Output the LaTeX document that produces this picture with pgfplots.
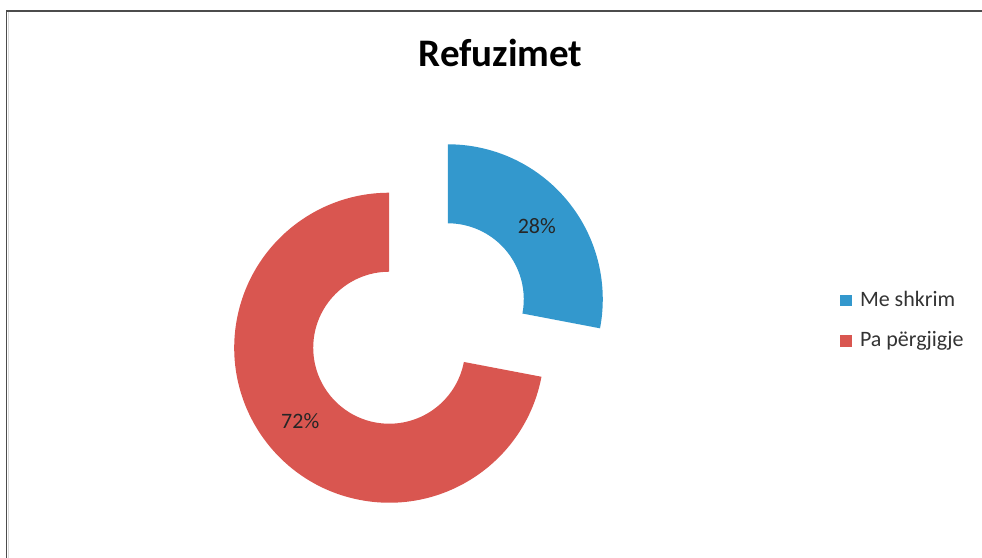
\documentclass[border=0pt]{standalone}
\usepackage{pgfplots}
\usepackage{pgfplotstable}
\pgfplotsset{compat=1.18}
\usepackage{fontspec}
\setmainfont{Carlito}

\definecolor{cblue}{RGB}{51,152,205}
\definecolor{cred}{RGB}{217,86,80}

% share of each ring segment
\pgfplotstableread{
label value
MeShkrim 28
PaPergjigje 72
}\ringdata

\begin{document}
\begin{tikzpicture}
\pgfplotstablegetelem{0}{value}\of\ringdata \let\va\pgfplotsretval
\pgfplotstablegetelem{1}{value}\of\ringdata \let\vb\pgfplotsretval
% angles (counter-clockwise from +x), ring starts at 12 o'clock and runs clockwise
\pgfmathsetmacro\aA{90}
\pgfmathsetmacro\aB{90-\va/(\va+\vb)*360}
\pgfmathsetmacro\aC{\aB-\vb/(\va+\vb)*360}
\pgfmathsetmacro\mA{(\aA+\aB)/2}
\pgfmathsetmacro\mB{(\aB+\aC)/2}
% centre of the ring in pixel units, explosion 38 px
\pgfmathsetmacro\cxA{418.5+38*cos(\mA)}
\pgfmathsetmacro\cyA{234.5+38*sin(\mA)}
\pgfmathsetmacro\cxB{418.5+38*cos(\mB)}
\pgfmathsetmacro\cyB{234.5+38*sin(\mB)}
% label positions at mid-ring
\pgfmathsetmacro\lxA{\cxA+115.5*cos(\mA)}
\pgfmathsetmacro\lyA{\cyA+115.5*sin(\mA)}
\pgfmathsetmacro\lxB{\cxB+115.5*cos(\mB)}
\pgfmathsetmacro\lyB{\cyB+115.5*sin(\mB)}

\useasboundingbox (0,0) rectangle (491pt,279pt);

\begin{axis}[
  at={(0,0)}, anchor=south west,
  width=491pt, height=279pt,
  scale only axis,
  xmin=0, xmax=982, ymin=0, ymax=558,
  hide axis,
  clip=false,
  legend style={
    draw=none, fill=none,
    at={(axis cs:840,237.5)}, anchor=west,
    font=\fontsize{11}{13}\selectfont,
    text=black!80,
    row sep=8pt,
    inner sep=0pt,
    nodes={inner ysep=1.5pt, inner xsep=1.5pt},
    /tikz/every odd column/.append style={column sep=2.5pt},
  },
  legend cell align=left,
]
  \addlegendimage{legend image code/.code={\fill[cblue] (0pt,-2.7pt) rectangle (5.4pt,2.7pt);}}
  \addlegendentry{Me shkrim}
  \addlegendimage{legend image code/.code={\fill[cred] (0pt,-2.7pt) rectangle (5.4pt,2.7pt);}}
  \addlegendentry{Pa përgjigje}

  \fill[cblue] ([shift={(\aA:77.5pt)}]axis cs:\cxA,\cyA)
     arc[start angle=\aA, end angle=\aB, radius=77.5pt]
     -- ([shift={(\aB:38pt)}]axis cs:\cxA,\cyA)
     arc[start angle=\aB, end angle=\aA, radius=38pt] -- cycle;
  \fill[cred] ([shift={(\aB:77.5pt)}]axis cs:\cxB,\cyB)
     arc[start angle=\aB, end angle=\aC, radius=77.5pt]
     -- ([shift={(\aC:38pt)}]axis cs:\cxB,\cyB)
     arc[start angle=\aC, end angle=\aB, radius=38pt] -- cycle;

  \node[font=\fontsize{11}{13}\selectfont, text=black!85] at (axis cs:\lxA,\lyA) {28\%};
  \node[font=\fontsize{11}{13}\selectfont, text=black!85] at (axis cs:\lxB,\lyB) {72\%};

  \node[font=\bfseries\fontsize{19.5}{23}\selectfont] at (axis cs:500.5,505) {Refuzimet};
\end{axis}

% chart frame, runs off the right and bottom edge
\draw[black!15, line width=0.6pt] (4.2pt,-20pt) |- (520pt,273.2pt);
\draw[black!70, line width=0.9pt] (3.3pt,-20pt) |- (520pt,273.6pt);
\end{tikzpicture}
\end{document}
